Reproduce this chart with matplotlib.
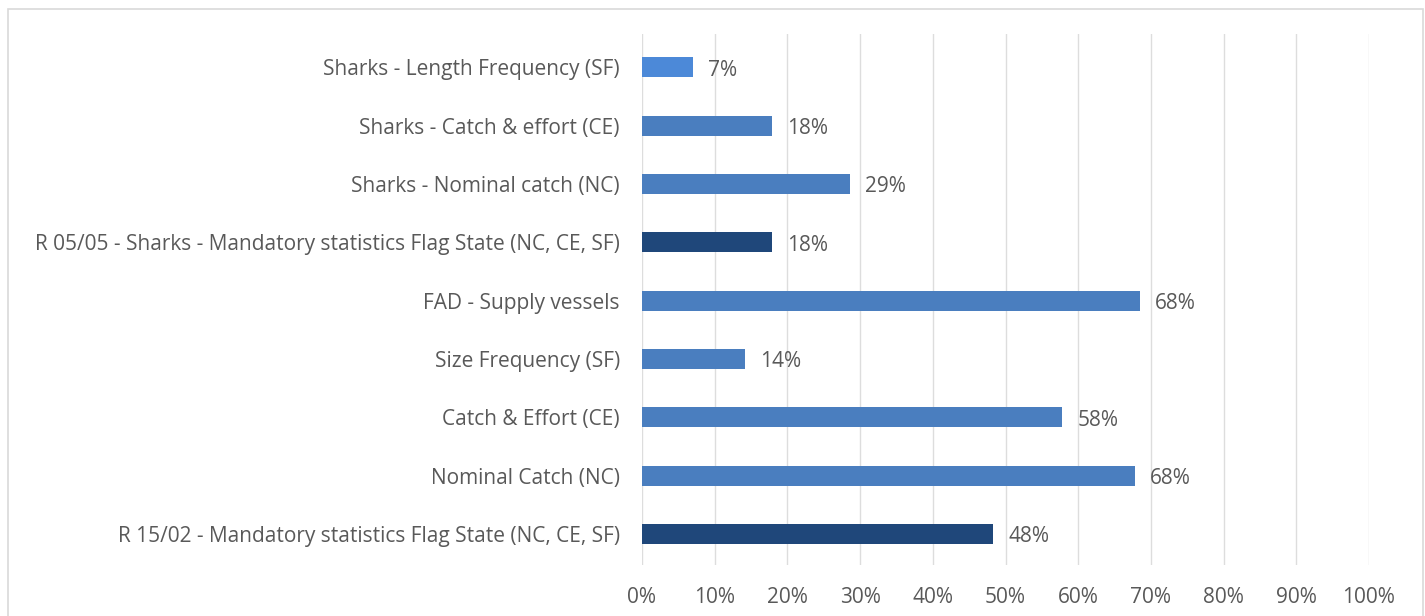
import matplotlib
matplotlib.use("Agg")
import matplotlib.pyplot as plt
from matplotlib.patches import Rectangle
from matplotlib.ticker import FuncFormatter

categories = [
    "R 15/02 - Mandatory statistics Flag State (NC, CE, SF)",
    "Nominal Catch (NC)",
    "Catch & Effort (CE)",
    "Size Frequency (SF)",
    "FAD - Supply vessels",
    "R 05/05 - Sharks - Mandatory statistics Flag State (NC, CE, SF)",
    "Sharks - Nominal catch (NC)",
    "Sharks - Catch & effort (CE)",
    "Sharks - Length Frequency (SF)",
]
values = [0.483, 0.678, 0.578, 0.142, 0.685, 0.179, 0.286, 0.179, 0.070]
labels = ["48%", "68%", "58%", "14%", "68%", "18%", "29%", "18%", "7%"]
bar_colors = ["#1F477A", "#4A7EBF", "#4A7EBF", "#4A7EBF", "#4A7EBF",
              "#1F477A", "#4A7EBF", "#4A7EBF", "#4C89D8"]
xticks = [0, 0.1, 0.2, 0.3, 0.4, 0.5, 0.6, 0.7, 0.8, 0.9, 1.0]

plt.rcParams['font.family'] = ['Open Sans', 'DejaVu Sans']
text_color = "#595959"
fs = 15

fig = plt.figure(figsize=(14.25, 6.16), dpi=100)
fig.patches.append(Rectangle((8/1425, -0.1), (1423-8)/1425, 1 - 9/616 + 0.1,
                             transform=fig.transFigure, fill=False,
                             edgecolor="#D9D9D9", linewidth=1.2))
ax = fig.add_axes([642/1425, 1 - 565/616, (1369-642)/1425, (565-34)/616])

y = list(range(len(categories)))
ax.barh(y, values, height=0.34, color=bar_colors, zorder=3)
for yi, v, lab in zip(y, values, labels):
    ax.annotate(lab, (v, yi), xytext=(11, -2), textcoords="offset points",
                va="center", ha="left", fontsize=fs, color=text_color)

ax.set_xlim(0, 1.0)
ax.set_ylim(-0.53, 8.57)
ax.set_xticks(xticks)
ax.xaxis.set_major_formatter(FuncFormatter(lambda v, p: f"{v*100:.0f}%"))
ax.set_yticks(y)
ax.set_yticklabels(categories)
ax.tick_params(axis="both", length=0, labelsize=fs, labelcolor=text_color)
ax.tick_params(axis="x", pad=16)
ax.tick_params(axis="y", pad=16)
ax.grid(axis="x", color="#DDDDDD", linewidth=1.0, zorder=0)
for s in ax.spines.values():
    s.set_visible(False)

fig.savefig("out.png", dpi=100)
